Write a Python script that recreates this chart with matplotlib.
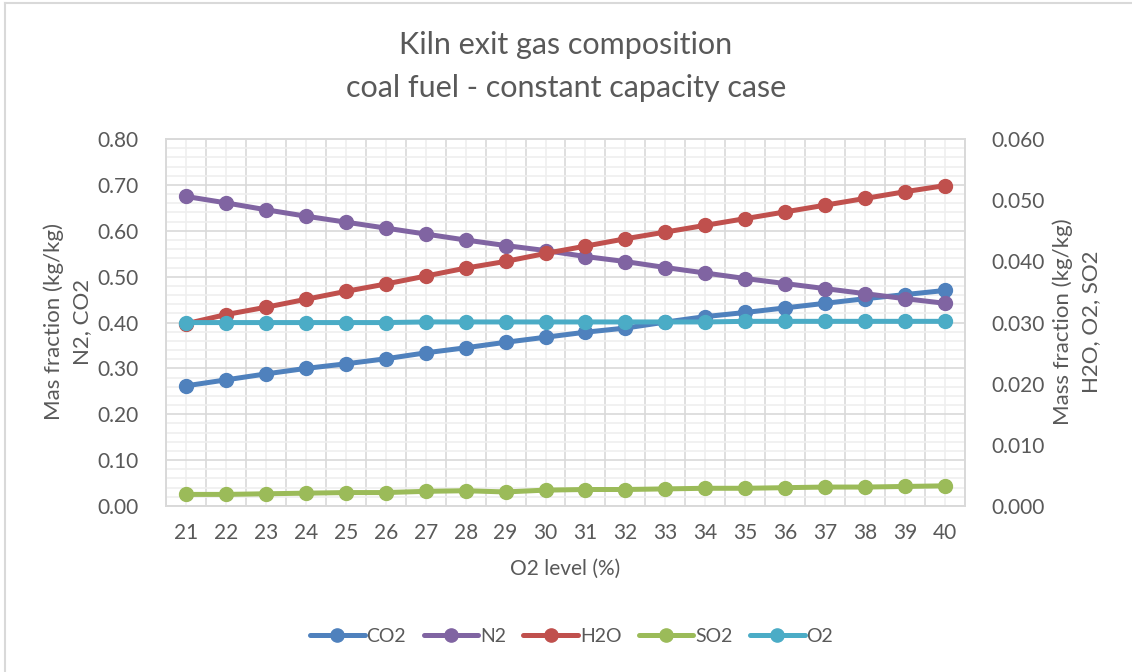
import matplotlib.pyplot as plt
from matplotlib.ticker import MultipleLocator, FormatStrFormatter
from matplotlib.lines import Line2D

plt.rcParams['font.family'] = ['Lato', 'DejaVu Sans']

# O2 level in the kiln (%)
o2_level = list(range(21, 41))

# primary axis: N2, CO2 mass fractions
co2 = [0.262, 0.275, 0.288, 0.300, 0.310, 0.321, 0.334, 0.345, 0.357, 0.368,
       0.379, 0.388, 0.401, 0.413, 0.422, 0.432, 0.442, 0.452, 0.461, 0.470]
n2 = [0.675, 0.661, 0.646, 0.632, 0.619, 0.606, 0.593, 0.580, 0.568, 0.557,
      0.544, 0.533, 0.520, 0.508, 0.496, 0.485, 0.474, 0.463, 0.452, 0.442]

# secondary axis: H2O, SO2, O2 mass fractions
h2o = [0.0298, 0.0313, 0.0325, 0.0338, 0.0351, 0.0363, 0.0376, 0.0389, 0.0400, 0.0413,
       0.0425, 0.0437, 0.0448, 0.0459, 0.0470, 0.0481, 0.0492, 0.0503, 0.0514, 0.0524]
so2 = [0.0019, 0.0019, 0.0020, 0.0021, 0.0022, 0.0022, 0.0024, 0.0025, 0.0023, 0.0026,
       0.0027, 0.0027, 0.0028, 0.0029, 0.0029, 0.0030, 0.0031, 0.0031, 0.0032, 0.0033]
o2 = [0.0300, 0.0300, 0.0300, 0.0300, 0.0300, 0.0300, 0.0301, 0.0301, 0.0301, 0.0301,
      0.0301, 0.0301, 0.0301, 0.0301, 0.0302, 0.0302, 0.0302, 0.0302, 0.0302, 0.0302]

colors = {'CO2': '#4f81bd', 'N2': '#8064a2', 'H2O': '#c0504d', 'SO2': '#9bbb59', 'O2': '#4bacc6'}
txt = '#595959'

fig = plt.figure(figsize=(11.32, 6.72), dpi=100)
ax = fig.add_axes([0.1466, 0.247, 0.7059, 0.546])
ax2 = ax.twinx()

style = dict(lw=3.6, marker='o', ms=10, solid_capstyle='round')
ax.plot(o2_level, co2, color=colors['CO2'], label='CO2', **style)
ax.plot(o2_level, n2, color=colors['N2'], label='N2', **style)
ax2.plot(o2_level, h2o, color=colors['H2O'], label='H2O', **style)
ax2.plot(o2_level, so2, color=colors['SO2'], label='SO2', **style)
ax2.plot(o2_level, o2, color=colors['O2'], label='O2', **style)

ax.set_xlim(20.5, 40.5)
ax.set_ylim(0, 0.8)
ax2.set_ylim(0, 0.06)

ax.set_xticks(o2_level)
ax.yaxis.set_major_locator(MultipleLocator(0.1))
ax.yaxis.set_major_formatter(FormatStrFormatter('%.2f'))
ax2.yaxis.set_major_locator(MultipleLocator(0.01))
ax2.yaxis.set_major_formatter(FormatStrFormatter('%.3f'))

# gridlines: darker at category boundaries / every 0.1, lighter in between
ax.grid(False)
for x in range(21, 41):
    ax.axvline(x, color='#efefef', lw=1.2, zorder=0)
for x in range(20, 41):
    ax.axvline(x + 0.5, color='#d9d9d9', lw=1.2, zorder=0)
for i in range(41):
    y = i * 0.02
    ax.axhline(y, color='#d9d9d9' if i % 5 == 0 else '#efefef', lw=1.2, zorder=0)

for a in (ax, ax2):
    for s in a.spines.values():
        s.set_color('#d9d9d9')
        s.set_linewidth(1.2)
    a.tick_params(which='both', length=0, colors=txt, labelsize=15)
ax.tick_params(axis='x', pad=12)
ax.tick_params(axis='y', pad=20)
ax2.tick_params(axis='y', pad=19)

ax.set_xlabel('O2 level (%)', color=txt, fontsize=15, labelpad=12)
# axis titles placed on the figure so both lines sit where wanted
fig.text(0.0601, 0.521, 'Mas fraction (kg/kg)\nN2, CO2', rotation=90, ha='center', va='center',
         color=txt, fontsize=16, linespacing=1.5)
fig.text(0.9514, 0.521, 'Mass fraction (kg/kg)\nH2O, O2, SO2', rotation=90, ha='center', va='center',
         color=txt, fontsize=16, linespacing=1.5)

fig.text(0.5, 0.933, 'Kiln exit gas composition', ha='center', va='center', color=txt, fontsize=22)
fig.text(0.5, 0.869, 'coal fuel - constant capacity case', ha='center', va='center', color=txt, fontsize=22)

handles = ax.get_lines()[:2] + ax2.get_lines()
handles = [h for h in handles if h.get_label() in colors]
fig.legend(handles, [h.get_label() for h in handles], loc='center', bbox_to_anchor=(0.505, 0.053),
           ncol=5, frameon=False, fontsize=14, labelcolor=txt, handlelength=2.8,
           columnspacing=0.9, handletextpad=0.1, markerscale=0.95)

# chart border
fig.add_artist(Line2D([0.0045, 0.0045], [0, 0.996], color='#d9d9d9', lw=1.5))
fig.add_artist(Line2D([0.0045, 1], [0.996, 0.996], color='#d9d9d9', lw=1.5))

fig.savefig('out.png', dpi=100)
